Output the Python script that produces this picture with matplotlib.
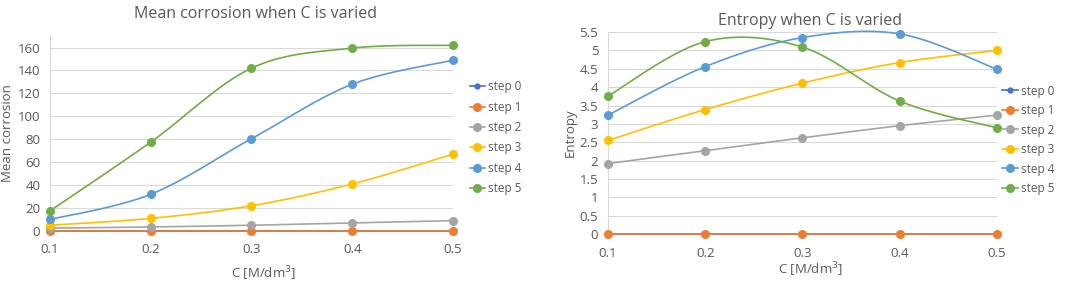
import matplotlib.pyplot as plt
import numpy as np

plt.rcParams['font.family'] = ['Open Sans', 'DejaVu Sans']

C = [0.1, 0.2, 0.3, 0.4, 0.5]
steps = ["step 0", "step 1", "step 2", "step 3", "step 4", "step 5"]
colors = ["#4472C4", "#ED7D31", "#A5A5A5", "#FFC000", "#5B9BD5", "#70AD47"]

# mean corrosion
corr_step0 = [0, 0, 0, 0, 0]
corr_step1 = [0, 0, 0, 0, 0]
corr_step2 = [2.5, 3.5, 5, 7, 9]
corr_step3 = [5, 11, 22, 41, 67]
corr_step4 = [10, 32, 80.5, 128, 149]
corr_step5 = [17.5, 77.5, 142, 159.5, 162]

# entropy
ent_step0 = [0, 0, 0, 0, 0]
ent_step1 = [0, 0, 0, 0, 0]
ent_step2 = [1.92, 2.27, 2.62, 2.95, 3.24]
ent_step3 = [2.55, 3.39, 4.11, 4.67, 5.0]
ent_step4 = [3.24, 4.56, 5.35, 5.45, 4.49]
ent_step5 = [3.76, 5.24, 5.09, 3.62, 2.89]

corr = [corr_step0, corr_step1, corr_step2, corr_step3, corr_step4, corr_step5]
ent = [ent_step0, ent_step1, ent_step2, ent_step3, ent_step4, ent_step5]

TXT = "#595959"
GRID = "#D9D9D9"


def smooth(x, y, n=30):
    # Excel-style smoothed line (Bezier through the points)
    x = np.asarray(x, float)
    y = np.asarray(y, float)
    px = np.concatenate([[x[0]], x, [x[-1]]])
    py = np.concatenate([[y[0]], y, [y[-1]]])
    xs, ys = [], []
    t = np.linspace(0, 1, n)
    for i in range(1, len(px) - 2):
        p0 = np.array([px[i], py[i]])
        p3 = np.array([px[i + 1], py[i + 1]])
        p1 = p0 + (np.array([px[i + 1], py[i + 1]]) - np.array([px[i - 1], py[i - 1]])) / 6
        p2 = p3 - (np.array([px[i + 2], py[i + 2]]) - np.array([px[i], py[i]])) / 6
        b = ((1 - t) ** 3)[:, None] * p0 + (3 * (1 - t) ** 2 * t)[:, None] * p1 \
            + (3 * (1 - t) * t ** 2)[:, None] * p2 + (t ** 3)[:, None] * p3
        xs.extend(b[:, 0])
        ys.extend(b[:, 1])
    return xs, ys


def draw(ax, data, title, ylabel, ylim, yticks, ylabels):
    for s, (vals, col) in enumerate(zip(data, colors)):
        sx, sy = smooth(C, vals)
        ms = 3.5 if s == 0 else 5.5
        ax.plot(sx, sy, color=col, lw=1.2, clip_on=False, zorder=3)
        ax.plot(C, vals, 'o', color=col, ms=ms, clip_on=False, zorder=4)
        ax.plot([], [], '-o', color=col, lw=1.2, ms=ms, label=steps[s])
    ax.set_xlim(0.1, 0.5)
    ax.set_ylim(*ylim)
    ax.set_xticks(C)
    ax.set_xticklabels(["0.1", "0.2", "0.3", "0.4", "0.5"])
    ax.set_yticks(yticks)
    ax.set_yticklabels(ylabels)
    ax.grid(axis='y', color=GRID, lw=0.8)
    ax.set_axisbelow(True)
    for sp in ["top", "right", "bottom"]:
        ax.spines[sp].set_visible(False)
    ax.spines["left"].set_color(GRID)
    ax.tick_params(length=0, colors=TXT, labelsize=9.5)
    ax.tick_params(axis='x', pad=9)
    ax.tick_params(axis='y', pad=7)
    ax.set_xlabel("C [M/dm$^3$]", color=TXT, fontsize=9.5)
    ax.set_ylabel(ylabel, color=TXT, fontsize=9.5)


fig = plt.figure(figsize=(10.72, 2.82), dpi=100)
ax1 = fig.add_axes([0.0466, 0.181, 0.376, 0.691])
ax2 = fig.add_axes([0.5672, 0.170, 0.3628, 0.7163])

draw(ax1, corr, "Mean corrosion when C is varied", "Mean corrosion",
     (0, 170), range(0, 161, 20), [str(v) for v in range(0, 161, 20)])
ent_ticks = [i * 0.5 for i in range(12)]
draw(ax2, ent, "Entropy when C is varied", "Entropy",
     (0, 5.5), ent_ticks, ["%g" % v for v in ent_ticks])

ax1.set_title("Mean corrosion when C is varied", color=TXT, fontsize=11.5, pad=13, x=0.51)
ax2.set_title("Entropy when C is varied", color=TXT, fontsize=11.5, pad=5, x=0.52)
ax1.xaxis.set_label_coords(0.53, -0.17)
ax1.yaxis.set_label_coords(-0.09, 0.5)
ax2.xaxis.set_label_coords(0.52, -0.13)
ax2.yaxis.set_label_coords(-0.08, 0.5)

for ax, x0, y0, sp in [(ax1, 0.438, 0.715, 0.62), (ax2, 0.935, 0.70, 0.55)]:
    ax.legend(loc='upper left', bbox_to_anchor=(x0, y0), bbox_transform=fig.transFigure,
              frameon=False, fontsize=8.5, labelcolor=TXT, handlelength=1.3,
              handletextpad=0.3, labelspacing=sp, borderaxespad=0, borderpad=0)

fig.savefig("out.png", dpi=100)
